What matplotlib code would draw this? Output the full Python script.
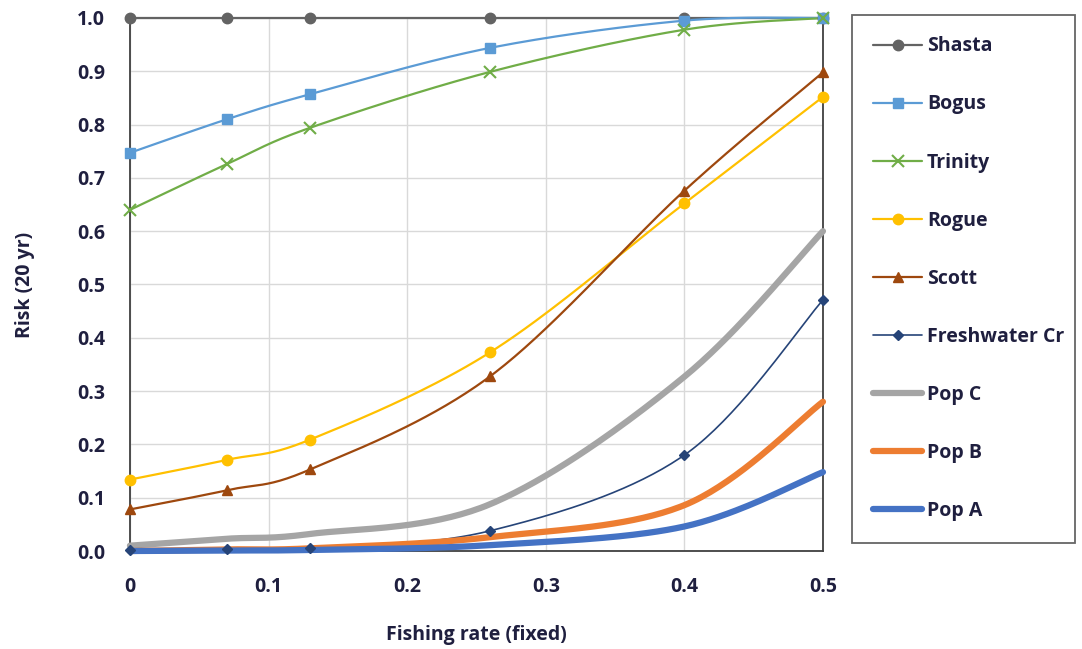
import numpy as np
import matplotlib
matplotlib.use("Agg")
from matplotlib import pyplot as plt

plt.rcParams['font.family'] = ['Open Sans', 'DejaVu Sans']

x = [0, 0.07, 0.13, 0.26, 0.4, 0.5]

shasta = [1.0, 1.0, 1.0, 1.0, 1.0, 1.0]
bogus = [0.747, 0.81, 0.857, 0.944, 0.995, 1.0]
trinity = [0.64, 0.726, 0.794, 0.899, 0.978, 1.0]
rogue = [0.134, 0.171, 0.209, 0.373, 0.652, 0.852]
scott = [0.078, 0.114, 0.153, 0.328, 0.676, 0.898]
freshwater = [0.002, 0.003, 0.005, 0.038, 0.18, 0.471]
pop_c = [0.01, 0.023, 0.032, 0.088, 0.327, 0.6]
pop_b = [0.0, 0.003, 0.005, 0.026, 0.086, 0.28]
pop_a = [0.0, 0.001, 0.002, 0.011, 0.046, 0.148]

names = ["Shasta", "Bogus", "Trinity", "Rogue", "Scott", "Freshwater Cr",
         "Pop C", "Pop B", "Pop A"]


def smooth(xs, ys, n=40):
    # Excel-like smoothed line: cubic bezier segments (Catmull-Rom style)
    xs = np.asarray(xs, float)
    ys = np.asarray(ys, float)
    pts = np.column_stack([xs, ys])
    out = []
    for i in range(len(pts) - 1):
        p0 = pts[i - 1] if i > 0 else pts[i]
        p1 = pts[i]
        p2 = pts[i + 1]
        p3 = pts[i + 2] if i + 2 < len(pts) else pts[i + 1]
        c1 = p1 + (p2 - p0) / 6.0
        c2 = p2 - (p3 - p1) / 6.0
        t = np.linspace(0, 1, n)[:, None]
        seg = ((1 - t) ** 3) * p1 + 3 * ((1 - t) ** 2) * t * c1 + 3 * (1 - t) * t ** 2 * c2 + t ** 3 * p2
        out.append(seg if i == 0 else seg[1:])
    out = np.vstack(out)
    return out[:, 0], out[:, 1]


fig = plt.figure(figsize=(10.82, 6.49), dpi=100)
ax = fig.add_axes([0.1201, 0.151, 0.6405, 0.8213])

series = [
    (shasta, "#636363", "o", 1.6, 7.5),
    (bogus, "#5B9BD5", "s", 1.6, 7),
    (trinity, "#70AD47", "x", 1.6, 9),
    (rogue, "#FFC000", "o", 1.6, 7.5),
    (scott, "#9E480E", "^", 1.6, 7.5),
    (freshwater, "#264478", "D", 1.2, 5),
    (pop_c, "#A5A5A5", None, 4.5, 0),
    (pop_b, "#ED7D31", None, 4.5, 0),
    (pop_a, "#4472C4", None, 4.5, 0),
]

handles = []
for (ys, col, mk, lw, ms), name in zip(series, names):
    sx, sy = smooth(x, ys)
    ax.plot(sx, sy, color=col, lw=lw, solid_capstyle='round', clip_on=False, zorder=3)
    if mk:
        ax.plot(x, ys, linestyle='none', marker=mk, color=col, ms=ms,
                mew=1.5 if mk == 'x' else 1, clip_on=False, zorder=4)
    h, = ax.plot([], [], color=col, lw=lw, marker=mk, ms=ms, solid_capstyle='round',
                 mew=1.5 if mk == 'x' else 1)
    h.set_label(name)
    handles.append(h)

ax.set_xlim(0, 0.5)
ax.set_ylim(0, 1.0)
ax.set_xticks(np.arange(0, 0.51, 0.1))
ax.set_xticklabels(["0", "0.1", "0.2", "0.3", "0.4", "0.5"])
ax.set_yticks(np.arange(0, 1.01, 0.1))
ax.set_yticklabels(["%.1f" % v for v in np.arange(0, 1.01, 0.1)])
ax.grid(True, color="#D9D9D9", lw=1)
ax.set_axisbelow(True)
ax.tick_params(length=0, labelsize=14, labelcolor="#1F1F3F")
ax.tick_params(axis='x', pad=19)
ax.tick_params(axis='y', pad=18)
for lab in ax.get_xticklabels() + ax.get_yticklabels():
    lab.set_fontweight('bold')
for sp in ax.spines.values():
    sp.set_color("#404040")
    sp.set_linewidth(1.3)

ax.set_xlabel("Fishing rate (fixed)", fontsize=14, fontweight='bold', labelpad=20, color="#1F1F3F")
ax.set_ylabel("Risk (20 yr)", fontsize=14, fontweight='bold', labelpad=30, color="#1F1F3F")

leg = fig.legend(handles=handles, loc='upper left', mode='expand',
                 bbox_to_anchor=(0.7874, 0.5, 0.2061, 0.4769),
                 prop={'weight': 'bold', 'size': 14}, frameon=True, fancybox=False,
                 edgecolor="#404040", handlelength=2.5, handletextpad=0.25,
                 labelspacing=1.96, borderpad=1.1, borderaxespad=0)
leg.get_frame().set_linewidth(1.3)
for t in leg.get_texts():
    t.set_color("#1F1F3F")

plt.savefig('out.png')
